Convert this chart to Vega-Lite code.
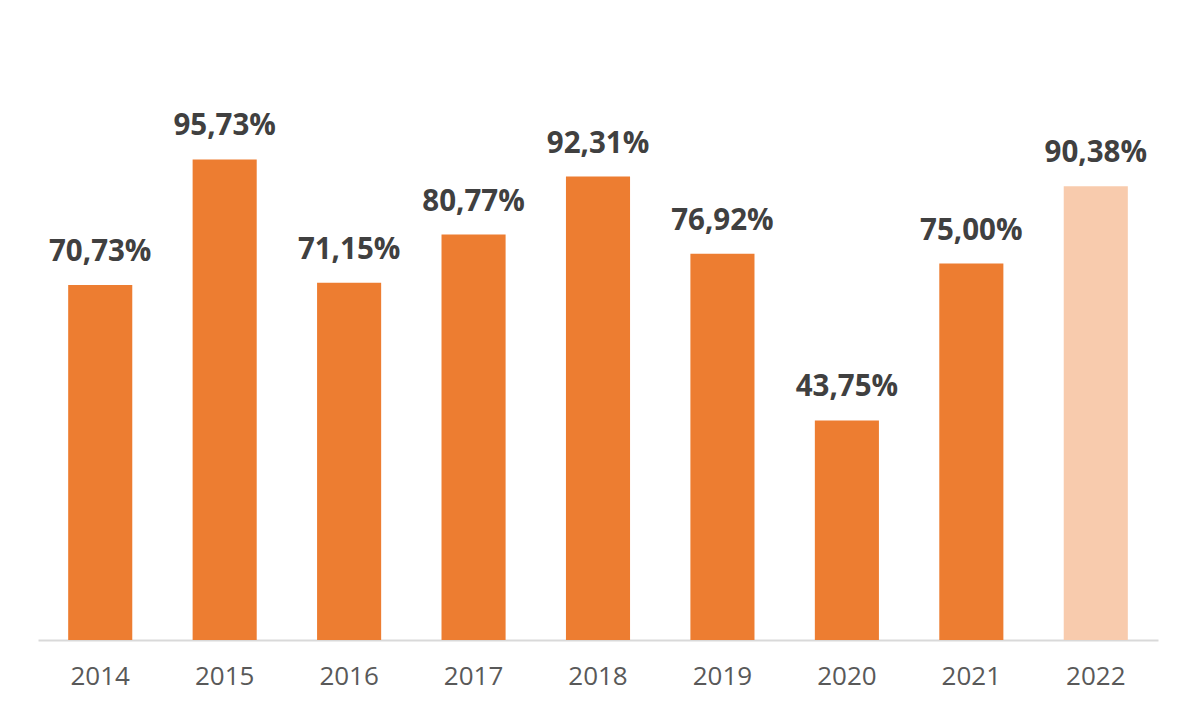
{
  "$schema": "https://vega.github.io/schema/vega-lite/v6.json",
  "width": 1120,
  "height": 502,
  "autosize": {"type": "none"},
  "padding": {"left": 38, "top": 138, "right": 40, "bottom": 82},
  "background": "white",
  "config": {"view": {"stroke": null}},
  "data": {
    "values": [
      {"year": "2014", "value": 70.73, "label": "70,73%", "kind": "a"},
      {"year": "2015", "value": 95.73, "label": "95,73%", "kind": "a"},
      {"year": "2016", "value": 71.15, "label": "71,15%", "kind": "a"},
      {"year": "2017", "value": 80.77, "label": "80,77%", "kind": "a"},
      {"year": "2018", "value": 92.31, "label": "92,31%", "kind": "a"},
      {"year": "2019", "value": 76.92, "label": "76,92%", "kind": "a"},
      {"year": "2020", "value": 43.75, "label": "43,75%", "kind": "a"},
      {"year": "2021", "value": 75.00, "label": "75,00%", "kind": "a"},
      {"year": "2022", "value": 90.38, "label": "90,38%", "kind": "b"}
    ]
  },
  "encoding": {
    "x": {
      "field": "year",
      "type": "nominal",
      "sort": null,
      "scale": {"paddingInner": 0.485, "paddingOuter": 0.2425},
      "axis": {
        "title": null,
        "labelAngle": 0,
        "ticks": false,
        "domainColor": "#d9d9d9",
        "domainWidth": 2,
        "labelFont": "Open Sans",
        "labelFontSize": 26,
        "labelColor": "#595959",
        "labelPadding": 23
      }
    },
    "y": {
      "field": "value",
      "type": "quantitative",
      "scale": {"domain": [0, 100], "nice": false},
      "axis": null
    }
  },
  "layer": [
    {
      "mark": {"type": "bar"},
      "encoding": {
        "color": {
          "field": "kind",
          "type": "nominal",
          "scale": {"domain": ["a", "b"], "range": ["#ED7D31", "#F8CBAD"]},
          "legend": null
        }
      }
    },
    {
      "mark": {
        "type": "text",
        "baseline": "alphabetic",
        "dy": -24,
        "font": "Open Sans",
        "fontWeight": "bold",
        "fontSize": 29.5,
        "color": "#404040"
      },
      "encoding": {"text": {"field": "label"}}
    }
  ]
}
